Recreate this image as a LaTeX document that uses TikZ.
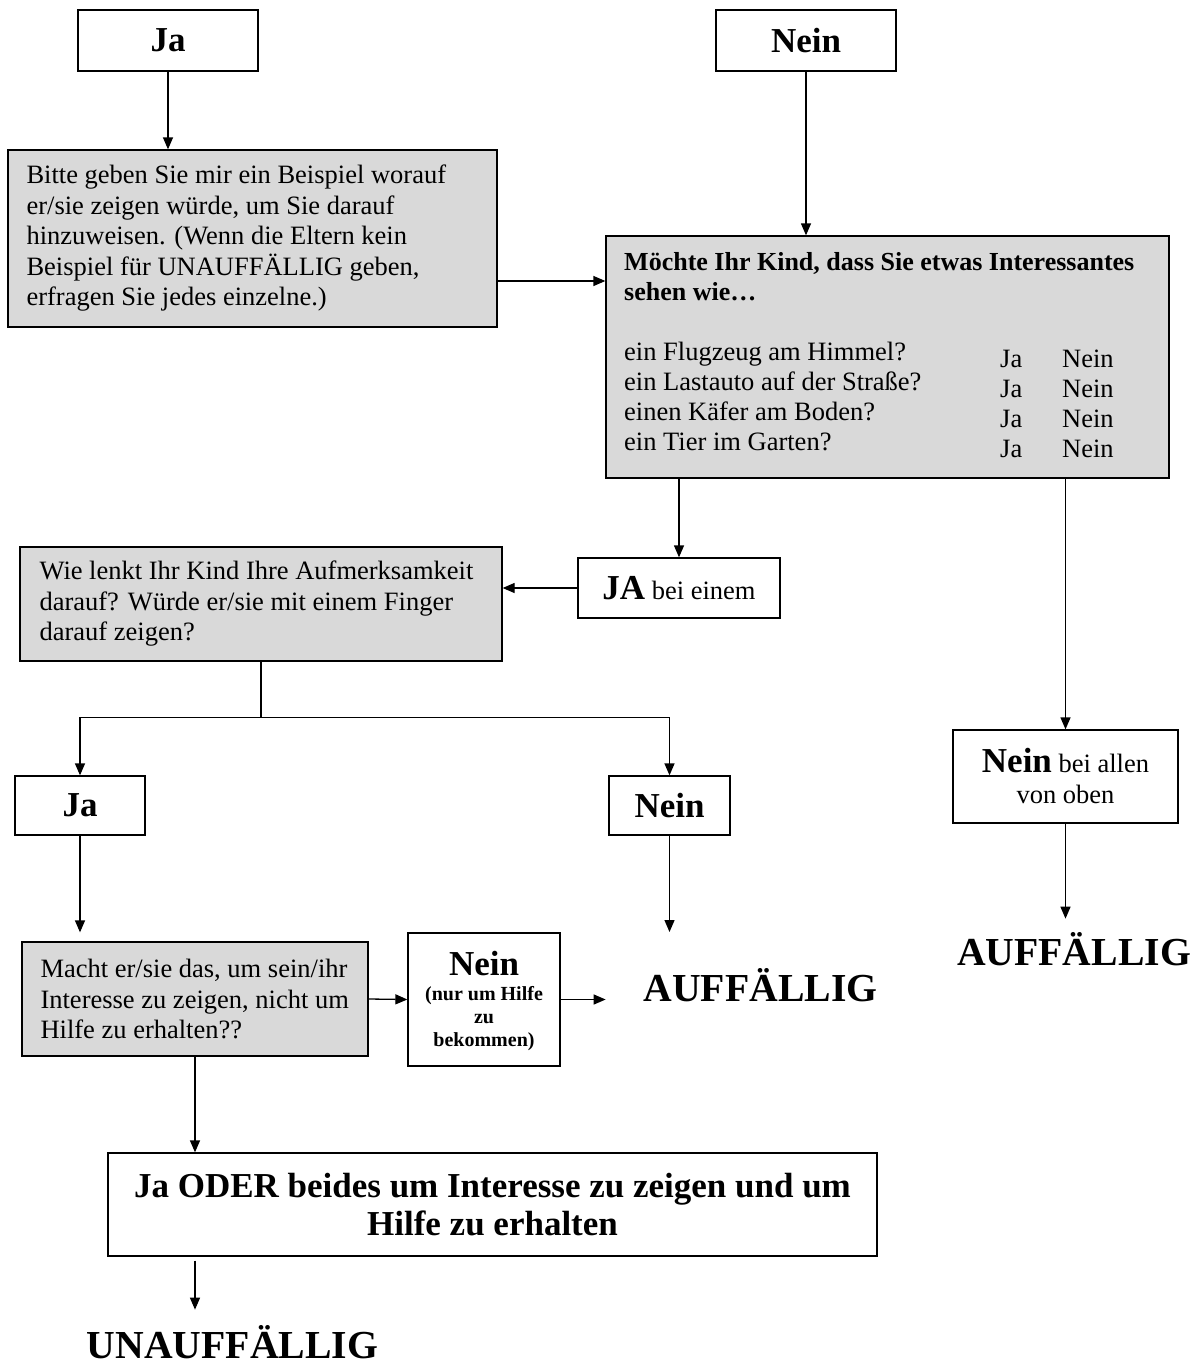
\documentclass[tikz,border=0pt]{standalone}
\usepackage{fontspec}
\setmainfont{Liberation Serif}
\usetikzlibrary{arrows.meta}
\definecolor{boxgray}{HTML}{D9D9D9}
\newcommand{\txtnorm}{\fontsize{26.5}{30.5}\selectfont}
\newcommand{\txthead}{\fontsize{26}{30}\selectfont\bfseries}
\newcommand{\txtbig}{\fontsize{35}{38}\selectfont\bfseries}
\newcommand{\txthuge}{\fontsize{39.7}{44}\selectfont\bfseries}
\newcommand{\txtsmall}{\fontsize{20}{23}\selectfont\bfseries}
\begin{document}
\begin{tikzpicture}[x=1pt,y=-1pt,
  frame/.style={draw, line width=1.3pt, rectangle, inner sep=0pt},
  grayframe/.style={frame, fill=boxgray},
  boxtext/.style={anchor=west, align=left, inner sep=0pt, font=\txtnorm},
  flow/.style={draw, line width=1.3pt, -{Triangle[length=12pt,width=10pt]}},
  plain/.style={draw, line width=1.3pt},
  label/.style={anchor=base, inner sep=0pt},
  lefttext/.style={anchor=base west, inner sep=0pt, font=\txtnorm}]
\fill[white] (0,0) rectangle (1199,1365);
\useasboundingbox (0,0) rectangle (1199,1365);

% answers at the top
\node[frame, minimum width=180pt, minimum height=61pt, font=\txtbig] (jatop) at (168,40.5) {Ja};
\node[frame, minimum width=180pt, minimum height=61pt, font=\txtbig] (neintop) at (806,40.5) {Nein};

% request for an example
\node[grayframe, minimum width=489pt, minimum height=177pt] (bitte) at (252.5,238.5) {};
\node[boxtext] (bittetxt) at ([xshift=19pt]bitte.west)
  {Bitte geben Sie mir ein Beispiel worauf\\ er/sie zeigen würde, um Sie darauf\\ hinzuweisen. (Wenn die Eltern kein\\ Beispiel für UNAUFFÄLLIG geben,\\ erfragen Sie jedes einzelne.)};

% main question with its four items
\node[grayframe, minimum width=563pt, minimum height=242pt] (mq) at (887.5,357) {};
\node[lefttext, font=\txthead] (mqh1) at (624,270) {Möchte Ihr Kind, dass Sie etwas Interessantes};
\node[lefttext, font=\txthead] (mqh2) at (624,300) {sehen wie…};
\foreach \q [count=\i] in {ein Flugzeug am Himmel?, ein Lastauto auf der Straße?, einen Käfer am Boden?, ein Tier im Garten?} {
  \node[lefttext] (q\i) at (624,330+30*\i) {\q};
  \node[lefttext] (qja\i) at (1000,336.7+30.3*\i) {Ja};
  \node[lefttext] (qnein\i) at (1062,336.7+30.3*\i) {Nein};
}

% yes for one item
\node[frame, minimum width=202pt, minimum height=60pt, font=\txtnorm] (jabei) at (679,588) {{\txtbig JA} bei einem};

% how the child directs attention
\node[grayframe, minimum width=482pt, minimum height=114pt] (wie) at (261,604) {};
\node[boxtext] (wietxt) at ([xshift=20pt]wie.west)
  {Wie lenkt Ihr Kind Ihre Aufmerksamkeit\\ darauf? Würde er/sie mit einem Finger\\ darauf zeigen?};

\node[frame, minimum width=130pt, minimum height=59pt, font=\txtbig] (jalow) at (80,805.5) {Ja};
\node[frame, minimum width=121pt, minimum height=59pt, font=\txtbig] (neinlow) at (669.5,805.5) {Nein};

% purpose of pointing
\node[grayframe, minimum width=346pt, minimum height=114pt] (macht) at (195,999) {};
\node[boxtext] (machttxt) at ([xshift=19pt]macht.west)
  {Macht er/sie das, um sein/ihr\\ Interesse zu zeigen, nicht um\\ Hilfe zu erhalten??};

\node[frame, minimum width=152pt, minimum height=133pt] (nhbox) at (484,999.5) {};
\node[label, font=\txtbig] (nh1) at (484,975) {Nein};
\node[label, font=\txtsmall] (nh2) at (484,1000) {(nur um Hilfe};
\node[label, font=\txtsmall] (nh3) at (484,1023) {zu};
\node[label, font=\txtsmall] (nh4) at (484,1046) {bekommen)};

\node[label, font=\txthuge] (auf1) at (760.5,1001) {AUFFÄLLIG};

% no for every item
\node[frame, minimum width=225pt, minimum height=93pt] (neinall) at (1065.5,776.5) {};
\node[label, font=\txtnorm] (na1) at (1065.5,772) {{\txtbig Nein} bei allen};
\node[label, font=\txtnorm] (na2) at (1065.5,803) {von oben};
\node[label, font=\txthuge] (auf2) at (1074,965) {AUFFÄLLIG};

% final outcome
\node[frame, minimum width=769pt, minimum height=103pt, align=center, font=\txtbig] (oder) at (492.5,1204.5)
  {Ja ODER beides um Interesse zu zeigen und um\\ Hilfe zu erhalten};
\node[label, font=\txthuge] (unauf) at (232.5,1358) {UNAUFFÄLLIG};

% connectors
\draw[flow] (jatop.south) -- (jatop.south |- bitte.north);
\draw[flow] (neintop.south) -- (neintop.south |- mq.north);
\draw[flow] (bitte.east |- 0,281) -- (mq.west |- 0,281);
\draw[flow] (jabei.north |- mq.south) -- (jabei.north);
\draw[flow] (jabei.west) -- (wie.east |- jabei.west);
\draw[plain] (wie.south) -- ++(0,56) coordinate (split);
\draw[flow] (split) -| (jalow.north);
\draw[flow] (split) -| (neinlow.north);
\draw[flow, shorten >=9pt] (jalow.south) -- (jalow.south |- macht.north);
\coordinate (tipA) at (667,932);
\draw[flow] (neinlow.south) -- (neinlow.south |- tipA);
\draw[flow] (macht.east) -- (nhbox.west);
\draw[flow] (nhbox.east) -- ++(45,0) coordinate (tipB);
\draw[flow] (macht.south) -- (macht.south |- oder.north);
\draw[flow, shorten <=4pt] (macht.south |- oder.south) -- ++(0,53) coordinate (tipC);
\draw[flow] (mq.south -| neinall.north) -- (neinall.north);
\draw[flow] (neinall.south) -- ++(0,95) coordinate (tipD);
\end{tikzpicture}
\end{document}
